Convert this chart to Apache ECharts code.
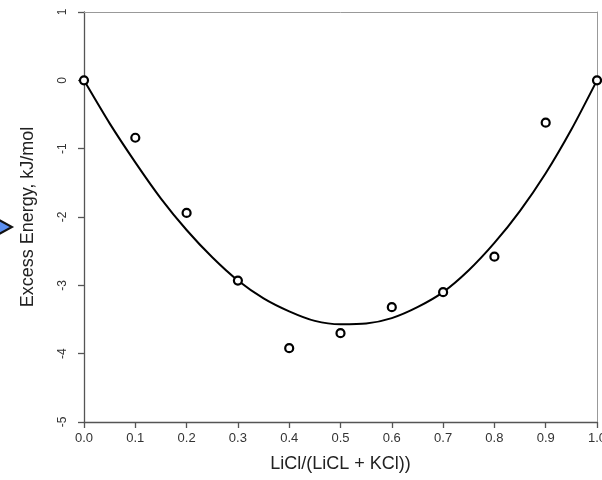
<!DOCTYPE html>
<html><head><meta charset="utf-8">
<script src="https://cdn.jsdelivr.net/npm/echarts@6/dist/echarts.min.js"></script>
<style>html,body{margin:0;padding:0;background:#fff}#c{width:602px;height:480px}</style>
</head><body><div id="c"></div>
<script>
const pointX = [0.0, 0.1, 0.2, 0.3, 0.4, 0.5, 0.6, 0.7, 0.8, 0.9, 1.0];
const pointY = [0, -0.84, -1.94, -2.93, -3.92, -3.70, -3.32, -3.10, -2.58, -0.62, 0];
const curveX = [0, 0.05, 0.1, 0.15, 0.2, 0.25, 0.3, 0.35, 0.4, 0.45, 0.5, 0.55, 0.6, 0.65, 0.7, 0.75, 0.8, 0.85, 0.9, 0.95, 1.0];
const curveY = [0, -0.63, -1.2, -1.73, -2.19, -2.59, -2.93, -3.19, -3.38, -3.52, -3.57, -3.56, -3.48, -3.32, -3.10, -2.78, -2.38, -1.91, -1.36, -0.72, 0];
const xTitle = 'LiCl/(LiCL + KCl))';
const yTitle = 'Excess Energy, kJ/mol';

const chart = echarts.init(document.getElementById('c'), null, {renderer: 'canvas'});
const font = 'Liberation Sans, Arial, Helvetica, sans-serif';
chart.setOption({
  animation: false,
  grid: {left: 84, right: 5, top: 12, bottom: 58, containLabel: false, outerBoundsMode: 'none'},
  xAxis: [{
    type: 'value', min: 0, max: 1, interval: 0.1, position: 'bottom',
    axisLine: {show: true, onZero: false, lineStyle: {color: '#555', width: 1.3}},
    axisTick: {show: true, length: 6, lineStyle: {color: '#555', width: 1.3}},
    splitLine: {show: false},
    axisLabel: {margin: 10, color: '#333', fontSize: 13, fontFamily: font, formatter: v => v.toFixed(1)},
    name: xTitle, nameLocation: 'middle', nameGap: 33,
    nameTextStyle: {fontSize: 18, color: '#222', fontFamily: font}
  }, {
    type: 'value', min: 0, max: 1, position: 'top',
    axisLine: {show: true, onZero: false, lineStyle: {color: '#999', width: 1}},
    axisTick: {show: false}, axisLabel: {show: false}, splitLine: {show: false}
  }],
  yAxis: [{
    type: 'value', min: -5, max: 1, interval: 1, position: 'left',
    axisLine: {show: true, onZero: false, lineStyle: {color: '#555', width: 1.3}},
    axisTick: {show: true, length: 6, lineStyle: {color: '#555', width: 1.3}},
    splitLine: {show: false},
    axisLabel: {rotate: 90, margin: 15, color: '#333', fontSize: 12, fontFamily: font},
    name: yTitle, nameLocation: 'middle', nameGap: 47, nameRotate: 90,
    nameTextStyle: {fontSize: 18, color: '#222', fontFamily: font}
  }, {
    type: 'value', min: -5, max: 1, position: 'right',
    axisLine: {show: true, onZero: false, lineStyle: {color: '#999', width: 1}},
    axisTick: {show: false}, axisLabel: {show: false}, splitLine: {show: false}
  }],
  graphic: [{
    type: 'polygon', z: 100,
    shape: {points: [[-12, 214], [12, 227], [-12, 240]]},
    style: {fill: '#5b8ff0', stroke: '#111', lineWidth: 2}
  }],
  series: [{
    type: 'line', smooth: 0.25, showSymbol: false, symbol: 'none',
    data: curveX.map((x, i) => [x, curveY[i]]),
    lineStyle: {color: '#000', width: 2}, z: 2
  }, {
    type: 'scatter', symbol: 'circle', symbolSize: 8,
    data: pointX.map((x, i) => [x, pointY[i]]),
    itemStyle: {color: '#fff', borderColor: '#000', borderWidth: 2.2, opacity: 1}, z: 3
  }]
});
</script></body></html>
